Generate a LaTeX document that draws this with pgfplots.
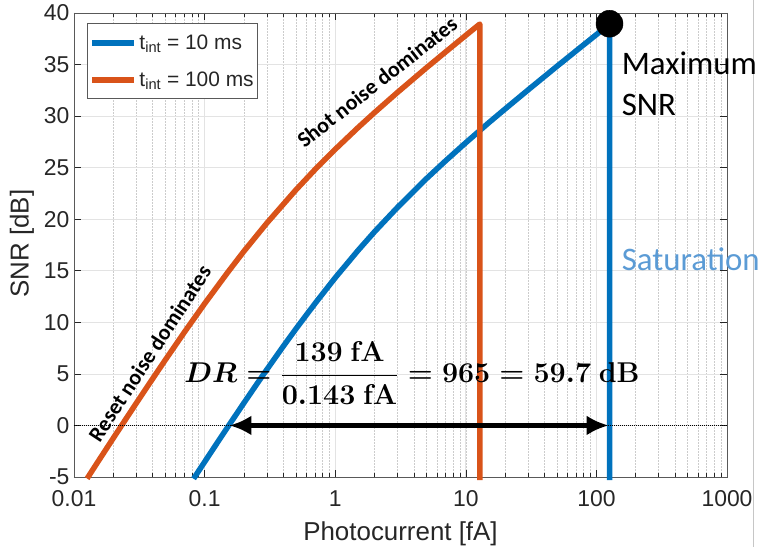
\documentclass[border=0pt]{standalone}
\usepackage{pgfplots}
\pgfplotsset{compat=1.18}
\usepackage{amsmath}
\usepackage[no-math]{fontspec}
\setmainfont{Liberation Sans}
\newfontfamily\calibri{Carlito}
\usetikzlibrary{arrows.meta}
\definecolor{mblue}{HTML}{0072BD}
\definecolor{morange}{HTML}{D95319}
\definecolor{satblue}{HTML}{5B9BD5}
\definecolor{axgray}{HTML}{262626}

\begin{document}
\begin{tikzpicture}[x=1bp,y=1bp]
\path[use as bounding box] (0,0) rectangle (766,554);
\draw[gray!45, line width=1bp] (753.5,7) -- (753.5,554);
\begin{axis}[
  at={(74bp,77bp)}, anchor=south west,
  scale only axis, width=653bp, height=464bp,
  xmode=log, xmin=0.01, xmax=1000, ymin=-5, ymax=40,
  xtick={0.01,0.1,1,10,100,1000},
  xticklabels={0.01,0.1,1,10,100,1000},
  ytick={-5,0,5,10,15,20,25,30,35,40},
  yticklabels={-5,0,5,10,15,20,25,30,35,40},
  tick align=inside, tick pos=both,
  major tick length=7bp, minor tick length=4bp,
  tick style={axgray, line width=0.6bp},
  axis line style={gray!70!black, line width=0.8bp},
  xmajorgrids, ymajorgrids, xminorgrids,
  major grid style={gray!22, line width=0.7bp},
  minor grid style={gray!40, line width=0.6bp, dash pattern=on 1.5bp off 1.5bp},
  tick label style={font=\fontsize{23}{27}\selectfont, text=axgray},
  xticklabel style={yshift=-10bp},
  yticklabel style={xshift=-1bp},
  label style={font=\fontsize{26}{30}\selectfont, text=axgray},
  xlabel={Photocurrent [fA]}, ylabel={SNR [dB]},
  xlabel style={at={(axis description cs:0.5,-0.1358)}, anchor=base},
  ylabel style={at={(axis description cs:-0.0796,0.503)}, anchor=center},
  clip=false,
  legend cell align=left,
  legend style={at={(0.02,0.978)}, anchor=north west, draw=gray!70!black,
    line width=0.8bp, font=\fontsize{21}{25}\selectfont, text=axgray,
    inner xsep=2bp, inner ysep=9bp, row sep=17bp},
  legend image code/.code={\draw[#1, line width=6bp] (0bp,0bp) -- (42bp,0bp);},
]
% 10 ms
\addplot[mblue, line width=5.5bp, line join=round] coordinates {
(0.0824,-5.17) (0.09,-4.42) (0.1,-3.54) (0.12,-2.02) (0.15,-0.17) (0.2,2.18)
(0.25,3.98) (0.3,5.43) (0.4,7.67) (0.5,9.36) (0.7,11.82) (1,14.32) (1.5,16.99)
(2,18.78) (3,21.15) (5,23.94) (7,25.66) (10,27.42) (15,29.36) (20,30.69)
(30,32.54) (50,34.84) (70,36.33) (100,37.90) (126,38.96) (126,-5.3)
};
\addlegendentry{t\textsubscript{int} = 10 ms}
% 100 ms
\addplot[morange, line width=5.5bp, line join=round] coordinates {
(0.0126,-5.15) (0.015,-3.66) (0.02,-1.23) (0.025,0.64) (0.03,2.16) (0.04,4.53)
(0.05,6.35) (0.07,9.04) (0.1,11.81) (0.15,14.83) (0.2,16.89) (0.3,19.63)
(0.5,22.84) (0.7,24.81) (1,26.78) (1.5,28.90) (2,30.34) (3,32.30) (5,34.69)
(7,36.22) (10,37.83) (12.8,38.93) (12.8,-5.3)
};
\addlegendentry{t\textsubscript{int} = 100 ms}
% zero line
\addplot[black, line width=0.8bp, dash pattern=on 1bp off 1bp, forget plot]
  coordinates {(0.01,0) (1000,0)};
% dynamic range arrow
\addplot[black, line width=4.5bp, {Latex[length=22bp,width=20bp]}-{Latex[length=22bp,width=20bp]}, forget plot]
  coordinates {(0.155,0) (124,0)};
% maximum SNR
\addplot[only marks, mark=*, mark size=13.5bp, black, forget plot]
  coordinates {(126,38.96)};

\node[font=\fontsize{24}{28}\selectfont\boldmath, scale=1.155] at (axis cs:3.87,5.1)
  {$DR=\dfrac{139\ \mathrm{fA}}{0.143\ \mathrm{fA}}=965=59.7\ \mathrm{dB}$};
\node[anchor=base west, font=\calibri\fontsize{33}{38}\selectfont] at (axis cs:147,34) {Maximum};
\node[anchor=base west, font=\calibri\fontsize{33}{38}\selectfont] at (axis cs:147,30.1) {SNR};
\node[anchor=base west, font=\calibri\fontsize{33}{38}\selectfont, text=satblue] at (axis cs:147,15) {Saturation};
\node[rotate=56.8, font=\calibri\bfseries\fontsize{22}{26}\selectfont] at (axis cs:0.038,7.0) {Reset noise dominates};
\node[rotate=38.2, font=\calibri\bfseries\fontsize{22}{26}\selectfont] at (axis cs:2.09,33.3) {Shot noise dominates};
\end{axis}
\end{tikzpicture}
\end{document}
